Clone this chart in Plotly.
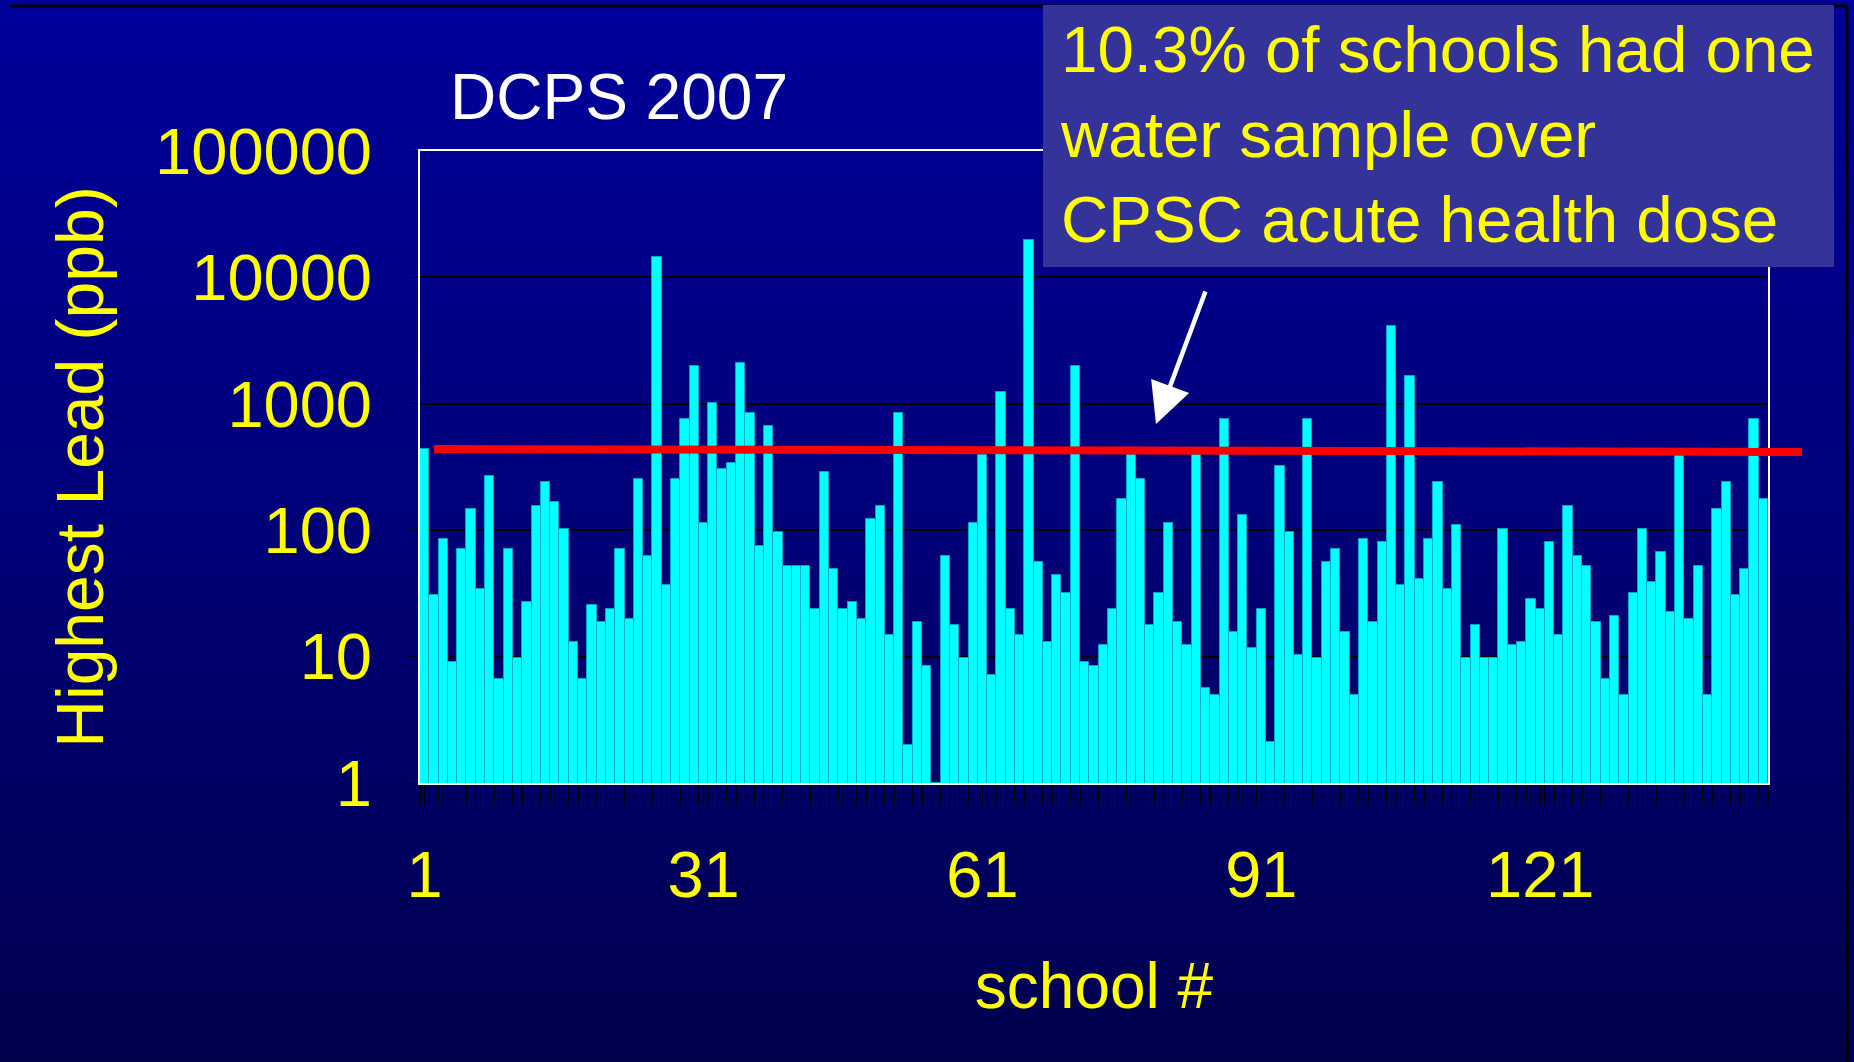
import base64
import plotly.graph_objects as go

# ---------------- data ----------------
schools = list(range(1, 146))
highest_lead_ppb = [
    438, 30.6, 85, 9.1, 71, 147, 34, 268, 6.7, 71,
    9.7, 27, 156, 239, 166, 102, 13, 6.7, 25.5, 18.9,
    24, 71, 20, 254, 63, 14600, 36.6, 254, 757, 1980,
    115, 1020, 303, 343, 2100, 849, 75, 670, 96, 52.5,
    52.5, 52.5, 24, 287, 49, 24, 27, 20, 123, 156,
    14.8, 849, 2.0, 18.9, 8.5, 1, 63, 17.7, 9.7, 115,
    394, 7.2, 1230, 24, 14.8, 19900, 56, 13, 44, 32,
    1980, 9.1, 8.5, 12.3, 24, 175, 394, 254, 17.7, 32,
    115, 18.9, 12.3, 394, 5.6, 5.0, 757, 15.7, 131, 11.6,
    24, 2.1, 325, 96, 10.3, 757, 9.7, 56, 71, 15.7,
    5.0, 85, 18.9, 80, 4100, 36.6, 1660, 41, 85, 239,
    34, 109, 9.7, 17.7, 9.7, 9.7, 102, 12.3, 13, 28.8,
    24, 80, 14.8, 156, 63, 52.5, 18.9, 6.7, 21, 5.0,
    32, 102, 39, 67, 22.5, 394, 20, 52.5, 5.0, 147,
    239, 30.6, 49, 757, 175,
]
x_tick_values = [1, 31, 61, 91, 121]
y_tick_values = [1, 10, 100, 1000, 10000, 100000]
y_tick_labels = ["1", "10", "100", "1000", "10000", "100000"]
threshold_left_ppb = 438
threshold_right_ppb = 416
chart_title = "DCPS 2007"
x_title = "school #"
y_title = "Highest Lead (ppb)"
callout_lines = ["10.3% of schools had one", "water sample over", "CPSC acute health dose"]

# ---------------- layout geometry ----------------
W, H = 1854, 1062
L, R, T, B = 420, 86, 151, 279
PW, PH = W - L - R, H - T - B


def px_x(px):
    return (px - L) / PW


def px_y(py):
    return (H - B - py) / PH


FONT = "Liberation Sans, Arial, sans-serif"
YELLOW = "#FFFF00"

# gradient background as an SVG image
svg = (
    '<svg xmlns="http://www.w3.org/2000/svg" width="100" height="100" preserveAspectRatio="none">'
    '<defs><linearGradient id="g" x1="0" y1="0" x2="0" y2="1">'
    '<stop offset="0" stop-color="#00009B"/>'
    '<stop offset="0.5" stop-color="#000078"/>'
    '<stop offset="1" stop-color="#00004E"/>'
    '</linearGradient></defs>'
    '<rect width="100" height="100" fill="url(#g)"/></svg>'
)
svg_uri = "data:image/svg+xml;base64," + base64.b64encode(svg.encode()).decode()

fig = go.Figure()
fig.add_trace(go.Bar(
    x=schools,
    y=highest_lead_ppb,
    marker=dict(color="#00FFFF", line=dict(color="#00A8C8", width=1)),
    hoverinfo="x+y",
))

shapes = [
    # slide frame lines
    dict(type="line", xref="paper", yref="paper", x0=px_x(10), x1=px_x(1847), y0=px_y(6), y1=px_y(6),
         line=dict(color="black", width=3), layer="below"),
    dict(type="line", xref="paper", yref="paper", x0=px_x(1847), x1=px_x(1847), y0=px_y(6), y1=px_y(1062),
         line=dict(color="black", width=3), layer="below"),
    # callout box
    dict(type="rect", xref="paper", yref="paper", x0=px_x(1043), x1=px_x(1834), y0=px_y(267), y1=px_y(5),
         fillcolor="#333399", line=dict(width=0), layer="above"),
    # threshold line
    dict(type="line", xref="paper", yref="y", x0=px_x(434), x1=px_x(1802),
         y0=threshold_left_ppb, y1=threshold_right_ppb,
         line=dict(color="#FF0000", width=8), layer="above"),
]

annotations = [
    dict(text=chart_title, xref="paper", yref="paper", x=px_x(619), y=px_y(97),
         xanchor="center", yanchor="middle", showarrow=False,
         font=dict(family=FONT, size=64, color="white")),
    dict(text="<br>".join(callout_lines), xref="paper", yref="paper", x=px_x(1058), y=px_y(134),
         xanchor="left", yanchor="middle", align="left", showarrow=False,
         font=dict(family=FONT, size=65.5, color=YELLOW)),
    dict(text="", xref="paper", yref="paper", x=px_x(1156), y=px_y(424), ax=50, ay=-134,
         showarrow=True, arrowcolor="white", arrowwidth=4.5, arrowhead=2, arrowsize=1.8),
]

fig.update_layout(
    width=W, height=H,
    margin=dict(l=L, r=R, t=T, b=B, autoexpand=False),
    paper_bgcolor="#000078",
    plot_bgcolor="rgba(0,0,0,0)",
    showlegend=False,
    bargap=0,
    font=dict(family=FONT, color=YELLOW),
    images=[dict(source=svg_uri, xref="paper", yref="paper", x=px_x(0), y=px_y(0),
                 sizex=W / PW, sizey=H / PH, xanchor="left", yanchor="top",
                 sizing="stretch", layer="below")],
    shapes=shapes,
    annotations=annotations,
    xaxis=dict(
        range=[0.5, 145.5],
        tickmode="array", tickvals=x_tick_values, ticktext=[str(v) for v in x_tick_values],
        ticks="outside", ticklen=20, tickcolor="black", tickwidth=1,
        minor=dict(tickmode="linear", tick0=0.5, dtick=1, ticks="outside", ticklen=20,
                   tickcolor="black", tickwidth=1, showgrid=False),
        ticklabelstandoff=14,
        tickfont=dict(family=FONT, size=65, color=YELLOW),
        showgrid=False, zeroline=False,
        showline=True, linecolor="white", linewidth=2, mirror=True,
        title=dict(text=x_title, font=dict(family=FONT, size=64, color=YELLOW), standoff=53),
    ),
    yaxis=dict(
        type="log", range=[0, 5],
        tickmode="array", tickvals=y_tick_values, ticktext=y_tick_labels,
        ticks="outside", ticklen=8, tickcolor="black",
        ticklabelstandoff=25,
        tickfont=dict(family=FONT, size=65, color=YELLOW),
        showgrid=True, gridcolor="black", gridwidth=2,
        showline=True, linecolor="white", linewidth=2, mirror=True,
        title=dict(text=y_title, font=dict(family=FONT, size=66, color=YELLOW), standoff=30),
    ),
)

fig.write_html(
    "out.html",
    config={"displayModeBar": False},
    post_script="document.body.style.margin='0px';document.body.style.overflow='hidden';",
)
